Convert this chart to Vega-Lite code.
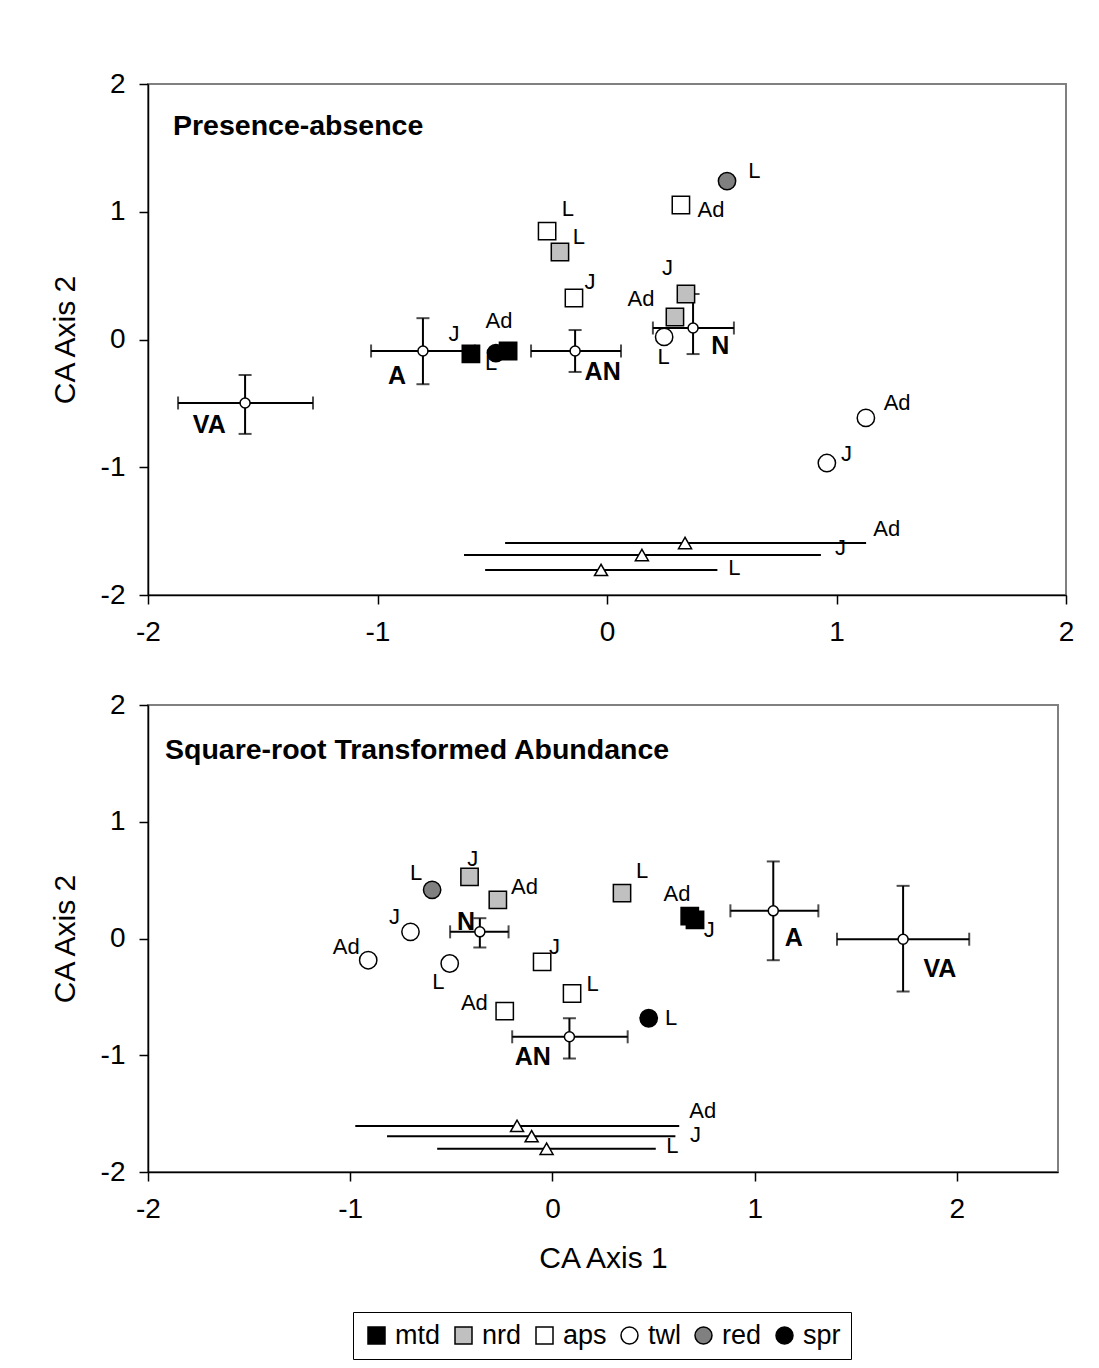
{
  "$schema": "https://vega.github.io/schema/vega-lite/v6.json",
  "padding": {"left": 49, "top": 69, "right": 10, "bottom": 10},
  "spacing": 43,
  "datasets": {
    "pts": [
      {"panel": "pa", "group": "mtd", "stage": "J", "x": -0.593, "y": -0.113, "lx": -0.667, "ly": 0.043},
      {"panel": "pa", "group": "mtd", "stage": "Ad", "x": -0.431, "y": -0.09, "lx": -0.471, "ly": 0.145},
      {"panel": "pa", "group": "spr", "stage": "L", "x": -0.484, "y": -0.106, "lx": -0.505, "ly": -0.184},
      {"panel": "pa", "group": "nrd", "stage": "L", "x": -0.205, "y": 0.685, "lx": -0.123, "ly": 0.802},
      {"panel": "pa", "group": "nrd", "stage": "J", "x": 0.344, "y": 0.356, "lx": 0.264, "ly": 0.562},
      {"panel": "pa", "group": "nrd", "stage": "Ad", "x": 0.296, "y": 0.176, "lx": 0.148, "ly": 0.319},
      {"panel": "pa", "group": "aps", "stage": "L", "x": -0.261, "y": 0.848, "lx": -0.171, "ly": 1.019},
      {"panel": "pa", "group": "aps", "stage": "J", "x": -0.144, "y": 0.325, "lx": -0.074, "ly": 0.452},
      {"panel": "pa", "group": "aps", "stage": "Ad", "x": 0.322, "y": 1.053, "lx": 0.453, "ly": 1.011},
      {"panel": "pa", "group": "red", "stage": "L", "x": 0.523, "y": 1.24, "lx": 0.642, "ly": 1.319},
      {"panel": "pa", "group": "twl", "stage": "L", "x": 0.249, "y": 0.02, "lx": 0.247, "ly": -0.137},
      {"panel": "pa", "group": "twl", "stage": "Ad", "x": 1.128, "y": -0.614, "lx": 1.264, "ly": -0.495},
      {"panel": "pa", "group": "twl", "stage": "J", "x": 0.958, "y": -0.967, "lx": 1.044, "ly": -0.899},
      {"panel": "sr", "group": "red", "stage": "L", "x": -0.595, "y": 0.417, "lx": -0.674, "ly": 0.557},
      {"panel": "sr", "group": "nrd", "stage": "J", "x": -0.41, "y": 0.528, "lx": -0.394, "ly": 0.685},
      {"panel": "sr", "group": "nrd", "stage": "Ad", "x": -0.27, "y": 0.331, "lx": -0.138, "ly": 0.443},
      {"panel": "sr", "group": "nrd", "stage": "L", "x": 0.344, "y": 0.388, "lx": 0.443, "ly": 0.574},
      {"panel": "sr", "group": "twl", "stage": "J", "x": -0.702, "y": 0.057, "lx": -0.781, "ly": 0.188},
      {"panel": "sr", "group": "twl", "stage": "Ad", "x": -0.911, "y": -0.186, "lx": -1.02, "ly": -0.077},
      {"panel": "sr", "group": "twl", "stage": "L", "x": -0.508, "y": -0.214, "lx": -0.564, "ly": -0.371},
      {"panel": "sr", "group": "aps", "stage": "J", "x": -0.051, "y": -0.2, "lx": 0.01, "ly": -0.071},
      {"panel": "sr", "group": "aps", "stage": "L", "x": 0.097, "y": -0.471, "lx": 0.199, "ly": -0.391},
      {"panel": "sr", "group": "aps", "stage": "Ad", "x": -0.236, "y": -0.622, "lx": -0.386, "ly": -0.554},
      {"panel": "sr", "group": "mtd", "stage": "Ad", "x": 0.679, "y": 0.191, "lx": 0.616, "ly": 0.38},
      {"panel": "sr", "group": "mtd", "stage": "J", "x": 0.705, "y": 0.16, "lx": 0.776, "ly": 0.074},
      {"panel": "sr", "group": "spr", "stage": "L", "x": 0.476, "y": -0.683, "lx": 0.587, "ly": -0.685}
    ],
    "cen": [
      {"panel": "pa", "name": "VA", "x": -1.577, "y": -0.497, "xlo": -1.869, "xhi": -1.281, "ylo": -0.739, "yhi": -0.278, "lx": -1.733, "ly": -0.672},
      {"panel": "pa", "name": "A", "x": -0.802, "y": -0.09, "xlo": -1.028, "xhi": -0.576, "ylo": -0.35, "yhi": 0.167, "lx": -0.915, "ly": -0.286},
      {"panel": "pa", "name": "AN", "x": -0.139, "y": -0.09, "xlo": -0.331, "xhi": 0.061, "ylo": -0.254, "yhi": 0.074, "lx": -0.019, "ly": -0.252},
      {"panel": "pa", "name": "N", "x": 0.375, "y": 0.09, "xlo": 0.2, "xhi": 0.553, "ylo": -0.114, "yhi": 0.356, "lx": 0.494, "ly": -0.051},
      {"panel": "sr", "name": "N", "x": -0.359, "y": 0.057, "xlo": -0.506, "xhi": -0.217, "ylo": -0.077, "yhi": 0.174, "lx": -0.427, "ly": 0.143},
      {"panel": "sr", "name": "AN", "x": 0.084, "y": -0.842, "xlo": -0.199, "xhi": 0.372, "ylo": -1.028, "yhi": -0.683, "lx": -0.097, "ly": -1.011},
      {"panel": "sr", "name": "A", "x": 1.092, "y": 0.237, "xlo": 0.88, "xhi": 1.315, "ylo": -0.186, "yhi": 0.66, "lx": 1.193, "ly": 0.003},
      {"panel": "sr", "name": "VA", "x": 1.734, "y": -0.006, "xlo": 1.407, "xhi": 2.061, "ylo": -0.454, "yhi": 0.451, "lx": 1.916, "ly": -0.263}
    ],
    "tri": [
      {"panel": "pa", "stage": "Ad", "x": 0.34, "y": -1.593, "xlo": -0.444, "xhi": 1.129, "lx": 1.219, "ly": -1.486},
      {"panel": "pa", "stage": "J", "x": 0.152, "y": -1.687, "xlo": -0.623, "xhi": 0.932, "lx": 1.017, "ly": -1.63},
      {"panel": "pa", "stage": "L", "x": -0.026, "y": -1.804, "xlo": -0.531, "xhi": 0.481, "lx": 0.555, "ly": -1.786},
      {"panel": "sr", "stage": "Ad", "x": -0.175, "y": -1.605, "xlo": -0.975, "xhi": 0.627, "lx": 0.743, "ly": -1.48},
      {"panel": "sr", "stage": "J", "x": -0.103, "y": -1.693, "xlo": -0.818, "xhi": 0.608, "lx": 0.707, "ly": -1.685},
      {"panel": "sr", "stage": "L", "x": -0.029, "y": -1.801, "xlo": -0.57, "xhi": 0.511, "lx": 0.593, "ly": -1.775}
    ]
  },
  "vconcat": [
    {
      "width": 918,
      "height": 511,
      "title": {"text": "Presence-absence", "anchor": "start", "frame": "group", "orient": "top", "baseline": "alphabetic", "offset": -93, "dx": 25, "fontSize": 28.5, "fontWeight": "bold", "font": "Liberation Sans", "color": "black"},
      "layer": [
        {
          "data": {"name": "pts"},
          "transform": [{"filter": "datum.panel == 'pa'"}],
          "mark": {"type": "text", "fontSize": 22, "color": "black"},
          "encoding": {
            "x": {"field": "lx", "type": "quantitative", "scale": {"domain": [-2, 2], "nice": false, "zero": false}, "axis": {"values": [-2, -1, 0, 1, 2], "labelExpr": "toString(datum.value)", "labelFlush": false, "title": null}},
            "y": {"field": "ly", "type": "quantitative", "scale": {"domain": [-2, 2], "nice": false, "zero": false}, "axis": {"values": [-2, -1, 0, 1, 2], "labelExpr": "toString(datum.value)", "title": "CA Axis 2"}},
            "text": {"field": "stage"}
          }
        },
        {
          "data": {"name": "tri"},
          "transform": [{"filter": "datum.panel == 'pa'"}],
          "mark": {"type": "text", "fontSize": 22, "color": "black"},
          "encoding": {"x": {"field": "lx", "type": "quantitative"}, "y": {"field": "ly", "type": "quantitative"}, "text": {"field": "stage"}}
        },
        {
          "data": {"name": "cen"},
          "transform": [{"filter": "datum.panel == 'pa'"}],
          "mark": {"type": "text", "fontSize": 25, "fontWeight": "bold", "color": "black"},
          "encoding": {"x": {"field": "lx", "type": "quantitative"}, "y": {"field": "ly", "type": "quantitative"}, "text": {"field": "name"}}
        },
        {
          "data": {"name": "tri"},
          "transform": [{"filter": "datum.panel == 'pa'"}],
          "mark": {"type": "rule", "strokeWidth": 2, "color": "black"},
          "encoding": {"x": {"field": "xlo", "type": "quantitative"}, "x2": {"field": "xhi"}, "y": {"field": "y", "type": "quantitative"}}
        },
        {
          "data": {"name": "cen"},
          "transform": [{"filter": "datum.panel == 'pa'"}],
          "mark": {"type": "rule", "strokeWidth": 2, "color": "black"},
          "encoding": {"x": {"field": "xlo", "type": "quantitative"}, "x2": {"field": "xhi"}, "y": {"field": "y", "type": "quantitative"}}
        },
        {
          "data": {"name": "cen"},
          "transform": [{"filter": "datum.panel == 'pa'"}],
          "mark": {"type": "rule", "strokeWidth": 2, "color": "black"},
          "encoding": {"x": {"field": "x", "type": "quantitative"}, "y": {"field": "ylo", "type": "quantitative"}, "y2": {"field": "yhi"}}
        },
        {
          "data": {"name": "cen"},
          "transform": [{"filter": "datum.panel == 'pa'"}],
          "mark": {"type": "tick", "orient": "vertical", "size": 13, "thickness": 2, "color": "black"},
          "encoding": {"x": {"field": "xlo", "type": "quantitative"}, "y": {"field": "y", "type": "quantitative"}}
        },
        {
          "data": {"name": "cen"},
          "transform": [{"filter": "datum.panel == 'pa'"}],
          "mark": {"type": "tick", "orient": "vertical", "size": 13, "thickness": 2, "color": "black"},
          "encoding": {"x": {"field": "xhi", "type": "quantitative"}, "y": {"field": "y", "type": "quantitative"}}
        },
        {
          "data": {"name": "cen"},
          "transform": [{"filter": "datum.panel == 'pa'"}],
          "mark": {"type": "tick", "orient": "horizontal", "size": 13, "thickness": 2, "color": "black"},
          "encoding": {"x": {"field": "x", "type": "quantitative"}, "y": {"field": "ylo", "type": "quantitative"}}
        },
        {
          "data": {"name": "cen"},
          "transform": [{"filter": "datum.panel == 'pa'"}],
          "mark": {"type": "tick", "orient": "horizontal", "size": 13, "thickness": 2, "color": "black"},
          "encoding": {"x": {"field": "x", "type": "quantitative"}, "y": {"field": "yhi", "type": "quantitative"}}
        },
        {
          "data": {"name": "pts"},
          "transform": [{"filter": "datum.panel == 'pa'"}],
          "mark": {"type": "point", "filled": true, "stroke": "black", "strokeWidth": 1.5, "size": 300, "opacity": 1},
          "encoding": {
            "x": {"field": "x", "type": "quantitative"},
            "y": {"field": "y", "type": "quantitative"},
            "fill": {"field": "group", "type": "nominal", "scale": {"domain": ["mtd", "nrd", "aps", "twl", "red", "spr"], "range": ["#000000", "#c0c0c0", "#ffffff", "#ffffff", "#808080", "#000000"]}, "legend": {"orient": "none", "legendX": 205, "legendY": 1228, "direction": "horizontal", "title": null, "gridAlign": "none", "encode": {"symbols": {"update": {"stroke": {"value": "black"}, "strokeWidth": {"value": 1.5}, "opacity": {"value": 1}}}}}},
            "shape": {"field": "group", "type": "nominal", "scale": {"domain": ["mtd", "nrd", "aps", "twl", "red", "spr"], "range": ["square", "square", "square", "circle", "circle", "circle"]}, "legend": {"orient": "none", "legendX": 205, "legendY": 1228, "direction": "horizontal", "title": null, "gridAlign": "none", "encode": {"symbols": {"update": {"stroke": {"value": "black"}, "strokeWidth": {"value": 1.5}, "opacity": {"value": 1}}}}}}
          }
        },
        {
          "data": {"name": "tri"},
          "transform": [{"filter": "datum.panel == 'pa'"}],
          "mark": {"type": "point", "shape": "triangle-up", "filled": true, "fill": "white", "stroke": "black", "strokeWidth": 1.5, "size": 170, "opacity": 1},
          "encoding": {"x": {"field": "x", "type": "quantitative"}, "y": {"field": "y", "type": "quantitative"}}
        },
        {
          "data": {"name": "cen"},
          "transform": [{"filter": "datum.panel == 'pa'"}],
          "mark": {"type": "point", "shape": "circle", "filled": true, "fill": "white", "stroke": "black", "strokeWidth": 1.5, "size": 100, "opacity": 1},
          "encoding": {"x": {"field": "x", "type": "quantitative"}, "y": {"field": "y", "type": "quantitative"}}
        }
      ]
    },
    {
      "width": 910,
      "height": 467,
      "title": {"text": "Square-root Transformed Abundance", "anchor": "start", "frame": "group", "orient": "top", "baseline": "alphabetic", "offset": -96, "dx": 17, "fontSize": 28.5, "fontWeight": "bold", "font": "Liberation Sans", "color": "black"},
      "layer": [
        {
          "data": {"name": "pts"},
          "transform": [{"filter": "datum.panel == 'sr'"}],
          "mark": {"type": "text", "fontSize": 22, "color": "black"},
          "encoding": {
            "x": {"field": "lx", "type": "quantitative", "scale": {"domain": [-2, 2.5], "nice": false, "zero": false}, "axis": {"values": [-2, -1, 0, 1, 2], "labelExpr": "toString(datum.value)", "labelFlush": false, "title": "CA Axis 1"}},
            "y": {"field": "ly", "type": "quantitative", "scale": {"domain": [-2, 2], "nice": false, "zero": false}, "axis": {"values": [-2, -1, 0, 1, 2], "labelExpr": "toString(datum.value)", "title": "CA Axis 2"}},
            "text": {"field": "stage"}
          }
        },
        {
          "data": {"name": "tri"},
          "transform": [{"filter": "datum.panel == 'sr'"}],
          "mark": {"type": "text", "fontSize": 22, "color": "black"},
          "encoding": {"x": {"field": "lx", "type": "quantitative"}, "y": {"field": "ly", "type": "quantitative"}, "text": {"field": "stage"}}
        },
        {
          "data": {"name": "cen"},
          "transform": [{"filter": "datum.panel == 'sr'"}],
          "mark": {"type": "text", "fontSize": 25, "fontWeight": "bold", "color": "black"},
          "encoding": {"x": {"field": "lx", "type": "quantitative"}, "y": {"field": "ly", "type": "quantitative"}, "text": {"field": "name"}}
        },
        {
          "data": {"name": "tri"},
          "transform": [{"filter": "datum.panel == 'sr'"}],
          "mark": {"type": "rule", "strokeWidth": 2, "color": "black"},
          "encoding": {"x": {"field": "xlo", "type": "quantitative"}, "x2": {"field": "xhi"}, "y": {"field": "y", "type": "quantitative"}}
        },
        {
          "data": {"name": "cen"},
          "transform": [{"filter": "datum.panel == 'sr'"}],
          "mark": {"type": "rule", "strokeWidth": 2, "color": "black"},
          "encoding": {"x": {"field": "xlo", "type": "quantitative"}, "x2": {"field": "xhi"}, "y": {"field": "y", "type": "quantitative"}}
        },
        {
          "data": {"name": "cen"},
          "transform": [{"filter": "datum.panel == 'sr'"}],
          "mark": {"type": "rule", "strokeWidth": 2, "color": "black"},
          "encoding": {"x": {"field": "x", "type": "quantitative"}, "y": {"field": "ylo", "type": "quantitative"}, "y2": {"field": "yhi"}}
        },
        {
          "data": {"name": "cen"},
          "transform": [{"filter": "datum.panel == 'sr'"}],
          "mark": {"type": "tick", "orient": "vertical", "size": 13, "thickness": 2, "color": "black"},
          "encoding": {"x": {"field": "xlo", "type": "quantitative"}, "y": {"field": "y", "type": "quantitative"}}
        },
        {
          "data": {"name": "cen"},
          "transform": [{"filter": "datum.panel == 'sr'"}],
          "mark": {"type": "tick", "orient": "vertical", "size": 13, "thickness": 2, "color": "black"},
          "encoding": {"x": {"field": "xhi", "type": "quantitative"}, "y": {"field": "y", "type": "quantitative"}}
        },
        {
          "data": {"name": "cen"},
          "transform": [{"filter": "datum.panel == 'sr'"}],
          "mark": {"type": "tick", "orient": "horizontal", "size": 13, "thickness": 2, "color": "black"},
          "encoding": {"x": {"field": "x", "type": "quantitative"}, "y": {"field": "ylo", "type": "quantitative"}}
        },
        {
          "data": {"name": "cen"},
          "transform": [{"filter": "datum.panel == 'sr'"}],
          "mark": {"type": "tick", "orient": "horizontal", "size": 13, "thickness": 2, "color": "black"},
          "encoding": {"x": {"field": "x", "type": "quantitative"}, "y": {"field": "yhi", "type": "quantitative"}}
        },
        {
          "data": {"name": "pts"},
          "transform": [{"filter": "datum.panel == 'sr'"}],
          "mark": {"type": "point", "filled": true, "stroke": "black", "strokeWidth": 1.5, "size": 300, "opacity": 1},
          "encoding": {
            "x": {"field": "x", "type": "quantitative"},
            "y": {"field": "y", "type": "quantitative"},
            "fill": {"field": "group", "type": "nominal", "scale": {"domain": ["mtd", "nrd", "aps", "twl", "red", "spr"], "range": ["#000000", "#c0c0c0", "#ffffff", "#ffffff", "#808080", "#000000"]}, "legend": {"orient": "none", "legendX": 205, "legendY": 1228, "direction": "horizontal", "title": null, "gridAlign": "none", "encode": {"symbols": {"update": {"stroke": {"value": "black"}, "strokeWidth": {"value": 1.5}, "opacity": {"value": 1}}}}}},
            "shape": {"field": "group", "type": "nominal", "scale": {"domain": ["mtd", "nrd", "aps", "twl", "red", "spr"], "range": ["square", "square", "square", "circle", "circle", "circle"]}, "legend": {"orient": "none", "legendX": 205, "legendY": 1228, "direction": "horizontal", "title": null, "gridAlign": "none", "encode": {"symbols": {"update": {"stroke": {"value": "black"}, "strokeWidth": {"value": 1.5}, "opacity": {"value": 1}}}}}}
          }
        },
        {
          "data": {"name": "tri"},
          "transform": [{"filter": "datum.panel == 'sr'"}],
          "mark": {"type": "point", "shape": "triangle-up", "filled": true, "fill": "white", "stroke": "black", "strokeWidth": 1.5, "size": 170, "opacity": 1},
          "encoding": {"x": {"field": "x", "type": "quantitative"}, "y": {"field": "y", "type": "quantitative"}}
        },
        {
          "data": {"name": "cen"},
          "transform": [{"filter": "datum.panel == 'sr'"}],
          "mark": {"type": "point", "shape": "circle", "filled": true, "fill": "white", "stroke": "black", "strokeWidth": 1.5, "size": 100, "opacity": 1},
          "encoding": {"x": {"field": "x", "type": "quantitative"}, "y": {"field": "y", "type": "quantitative"}}
        }
      ]
    }
  ],
  "resolve": {"scale": {"fill": "shared", "shape": "shared"}, "legend": {"fill": "shared", "shape": "shared"}},
  "config": {
    "font": "Liberation Sans",
    "background": "white",
    "view": {"stroke": "#808080", "strokeWidth": 2},
    "axis": {
      "grid": false,
      "domainColor": "black",
      "domainWidth": 1.5,
      "tickColor": "black",
      "tickWidth": 1.5,
      "tickSize": 9,
      "labelFontSize": 28,
      "labelColor": "black",
      "labelPadding": 14,
      "labelFont": "Liberation Sans",
      "titleFont": "Liberation Sans",
      "titleFontSize": 30,
      "titleFontWeight": "normal",
      "titleColor": "black",
      "titlePadding": 20
    },
    "legend": {
      "labelFontSize": 27,
      "labelFont": "Liberation Sans",
      "labelColor": "black",
      "symbolSize": 289,
      "symbolStrokeColor": "black",
      "symbolStrokeWidth": 1.5,
      "symbolOpacity": 1,
      "strokeColor": "black",
      "fillColor": "white",
      "padding": 10,
      "labelOffset": 5,
      "columnPadding": 9,
      "columns": 6
    }
  }
}
